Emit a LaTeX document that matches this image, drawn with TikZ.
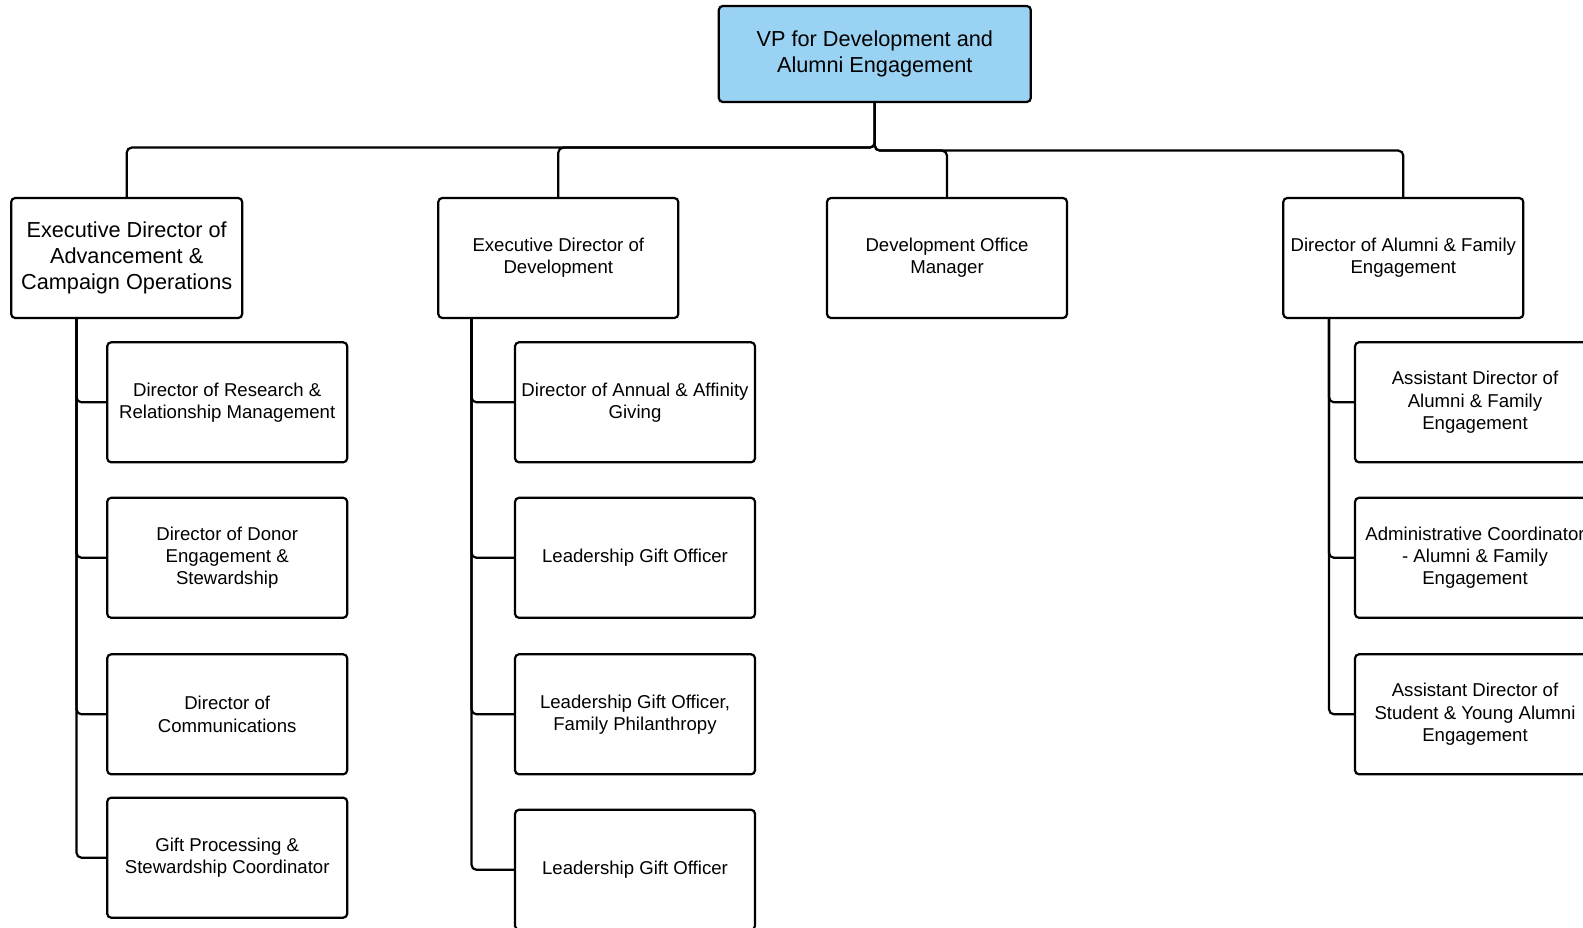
\documentclass[tikz,border=0pt]{standalone}
\usepackage{fontspec}
\setmainfont{Liberation Sans}
\definecolor{vpblue}{RGB}{153,210,242}
\begin{document}
\begin{tikzpicture}[x=1pt,y=-1pt,
  box/.style={draw=black, line width=2.2pt, rounded corners=4pt, align=center, inner sep=0pt,
    minimum height=120pt, minimum width=240pt, font=\fontsize{18.6}{22.2}\selectfont},
  big/.style={font=\fontsize{21.7}{26}\selectfont},
  conn/.style={draw=black, line width=2.2pt, rounded corners=5pt}]
\useasboundingbox (0,0) rectangle (1583,928);
% top
\node[box,big,fill=vpblue,minimum width=312pt,minimum height=96pt] (vp) at (874.8,54) {VP for Development and\\Alumni Engagement};
% level 1
\node[box,big,minimum width=231pt] (A) at (126.7,258) {Executive Director of\\Advancement \&\\Campaign Operations};
\node[box] (B) at (558.3,258) {Executive Director of\\Development};
\node[box] (C) at (947,258) {Development Office\\Manager};
\node[box] (D) at (1403.3,258) {Director of Alumni \& Family\\Engagement};
% left column
\node[box] (L1) at (227.2,402.3) {Director of Research \&\\Relationship Management};
\node[box] (L2) at (227.2,557.8) {Director of Donor\\Engagement \&\\Stewardship};
\node[box] (L3) at (227.2,714.3) {Director of\\Communications};
\node[box] (L4) at (227.2,857.7) {Gift Processing \&\\Stewardship Coordinator};
% middle column
\node[box] (M1) at (635,402.3) {Director of Annual \& Affinity\\Giving};
\node[box] (M2) at (635,557.8) {Leadership Gift Officer};
\node[box] (M3) at (635,714.3) {Leadership Gift Officer,\\Family Philanthropy};
\node[box] (M4) at (635,869.8) {Leadership Gift Officer};
% right column
\node[box] (R1) at (1475,402.3) {Assistant Director of\\Alumni \& Family\\Engagement};
\node[box] (R2) at (1475,557.8) {Administrative Coordinator\\- Alumni \& Family\\Engagement};
\node[box] (R3) at (1475,714.3) {Assistant Director of\\Student \& Young Alumni\\Engagement};
% top connectors
\draw[conn] (vp.south) -- ++(0,44.5) -| (A.north);
\draw[conn] (vp.south) -- ++(0,44.5) -| (B.north);
\draw[conn] (vp.south) -- ++(0,47.5) -| (C.north);
\draw[conn] (vp.south) -- ++(0,47.5) -| (D.north);
% left tree
\foreach \n in {L1,L2,L3,L4}{\draw[conn] ([xshift=-50.2pt]A.south) |- (\n.west);}
% middle tree
\foreach \n in {M1,M2,M3,M4}{\draw[conn] ([xshift=-86.8pt]B.south) |- (\n.west);}
% right tree
\foreach \n in {R1,R2,R3}{\draw[conn] ([xshift=-74.3pt]D.south) |- (\n.west);}
\end{tikzpicture}
\end{document}
